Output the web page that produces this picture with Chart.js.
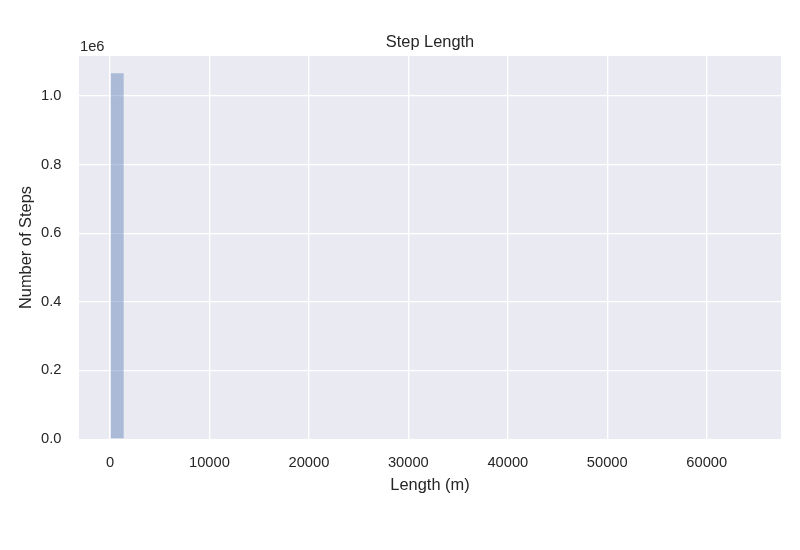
<!DOCTYPE html>
<html>
<head>
<meta charset="utf-8">
<script src="https://cdn.jsdelivr.net/npm/chart.js@4"></script>
<style>
  html, body { margin: 0; padding: 0; background: #fff; }
  #wrap { width: 800px; height: 550px; }
</style>
</head>
<body>
<div id="wrap"><canvas id="chart"></canvas></div>
<script>
// histogram of step lengths, 50 bins (first bin holds almost everything,
// the rest are too small to see at this scale)
const binStart = 91;
const binWidth = 1283;
const stepCounts = [
    1066000, 0, 0, 0, 0, 0, 0, 0, 0, 0,
    0, 0, 0, 0, 0, 0, 0, 0, 0, 0,
    0, 0, 0, 0, 0, 0, 0, 0, 0, 0,
    0, 0, 0, 0, 0, 0, 0, 0, 0, 0,
    0, 0, 0, 0, 0, 0, 0, 0, 0, 0,
];
const xTicks = [0, 10000, 20000, 30000, 40000, 50000, 60000];
const yTicks = [0, 200000, 400000, 600000, 800000, 1000000];
const chartTitle = "Step Length";

const textColor = "#262626";
const fontFamily = "'Liberation Sans', Arial, sans-serif";
const tickFont = { family: fontFamily, size: 14.7 };
const labelFont = { family: fontFamily, size: 16.4 };

const bins = stepCounts.map((count, i) => ({
    x: binStart + (i + 0.5) * binWidth,
    y: count,
}));

// grey plot background, title centred over the plot area, "1e6" offset text
const seabornStyle = {
    id: "seabornStyle",
    beforeDraw(chart) {
        const { ctx, chartArea: a } = chart;
        ctx.save();
        ctx.fillStyle = "#eaeaf2";
        ctx.fillRect(a.left, a.top, a.right - a.left, a.bottom - a.top);
        ctx.restore();
    },
    afterDraw(chart) {
        const { ctx, chartArea: a } = chart;
        ctx.save();
        ctx.fillStyle = textColor;
        ctx.font = "16.4px " + fontFamily;
        ctx.textAlign = "center";
        ctx.textBaseline = "middle";
        ctx.fillText(chartTitle, (a.left + a.right) / 2, a.top - 14);
        ctx.font = "14.7px " + fontFamily;
        ctx.textAlign = "left";
        ctx.textBaseline = "alphabetic";
        ctx.fillText("1e6", a.left + 1, a.top - 5);
        ctx.restore();
    },
};

const ctx = document.getElementById("chart").getContext("2d");
const myChart = new Chart(ctx, {
    type: "bar",
    data: {
        datasets: [
            {
                label: "Number of Steps",
                data: bins,
                backgroundColor: "rgba(76, 114, 176, 0.4)",
                borderWidth: 0,
                inflateAmount: 0,
                barPercentage: 1,
                categoryPercentage: 1,
            },
        ],
    },
    options: {
        responsive: true,
        maintainAspectRatio: false,
        animation: false,
        layout: { padding: { left: 0, right: 19, top: 56, bottom: 0 } },
        plugins: {
            legend: { display: false },
            tooltip: { enabled: false },
            title: { display: false },
        },
        scales: {
            x: {
                type: "linear",
                min: -3117,
                max: 67470,
                offset: false,
                afterBuildTicks: (scale) => {
                    scale.ticks = xTicks.map((v) => ({ value: v }));
                },
                afterFit: (scale) => { scale.height = 111; },
                ticks: {
                    color: textColor,
                    font: tickFont,
                    padding: 15.5,
                    maxRotation: 0,
                    callback: (v) => String(v),
                },
                grid: { color: "#ffffff", lineWidth: 1.3, drawTicks: false, offset: false },
                border: { display: false },
                title: {
                    display: true,
                    text: "Length (m)",
                    color: textColor,
                    font: labelFont,
                    padding: { top: 0, bottom: 55 },
                },
            },
            y: {
                min: 0,
                max: 1116600,
                afterBuildTicks: (scale) => {
                    scale.ticks = yTicks.map((v) => ({ value: v }));
                },
                afterFit: (scale) => { scale.width = 79; },
                ticks: {
                    color: textColor,
                    font: tickFont,
                    padding: 17.5,
                    callback: (v) => (v / 1e6).toFixed(1),
                },
                grid: {
                    // the 0 line sits on the bottom edge and is hidden in the original
                    color: (c) => (c.tick && c.tick.value === 0 ? "rgba(0,0,0,0)" : "#ffffff"),
                    lineWidth: 1.3,
                    drawTicks: false,
                },
                border: { display: false },
                title: {
                    display: true,
                    text: "Number of Steps",
                    color: textColor,
                    font: labelFont,
                    padding: { top: 16.3, bottom: 0 },
                },
            },
        },
    },
    plugins: [seabornStyle],
});
</script>
</body>
</html>
